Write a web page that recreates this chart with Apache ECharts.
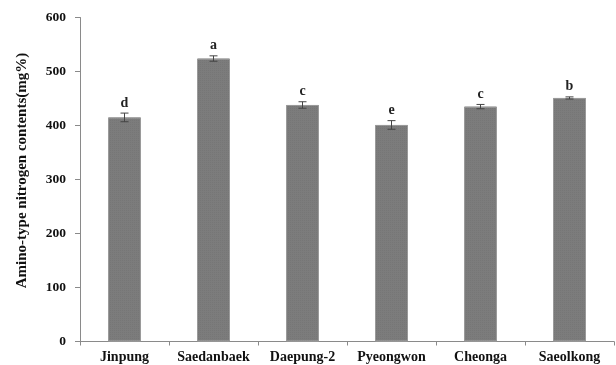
<!DOCTYPE html>
<html>
<head>
<meta charset="utf-8">
<script src="https://cdn.jsdelivr.net/npm/echarts@6/dist/echarts.min.js"></script>
<style>
  html, body { margin: 0; padding: 0; background: #fff; }
  #chart { width: 616px; height: 365px; }
</style>
</head>
<body>
<div id="chart"></div>
<script>
// Cultivars and their amino-type nitrogen contents (mg%)
const cultivars = ['Jinpung', 'Saedanbaek', 'Daepung-2', 'Pyeongwon', 'Cheonga', 'Saeolkong'];
const contents = [415, 524, 438, 401, 435, 451];
const errors = [8, 5, 6, 8, 4, 2];
const groups = ['d', 'a', 'c', 'e', 'c', 'b'];
const yTicks = [0, 100, 200, 300, 400, 500, 600];

const serif = '"Liberation Serif", "DejaVu Serif", serif';
const chart = echarts.init(document.getElementById('chart'));

chart.setOption({
  animation: false,
  grid: { left: 80, right: 2, top: 17.5, bottom: 23.5 },
  xAxis: {
    type: 'category',
    data: cultivars,
    axisLine: { lineStyle: { color: '#8a8a8a', width: 1 } },
    axisTick: { show: true, length: 4, lineStyle: { color: '#8a8a8a' } },
    axisLabel: {
      interval: 0,
      color: '#111', fontFamily: serif, fontWeight: 'bold', fontSize: 14,
      letterSpacing: 1, margin: 9
    }
  },
  yAxis: {
    type: 'value',
    min: yTicks[0],
    max: yTicks[yTicks.length - 1],
    interval: 100,
    name: 'Amino-type nitrogen contents(mg%)',
    nameLocation: 'middle',
    nameGap: 50,
    nameTextStyle: {
      color: '#111', fontFamily: serif, fontWeight: 'bold', fontSize: 15,
      padding: [0, 0, 0, 18]
    },
    axisLine: { show: true, lineStyle: { color: '#8a8a8a', width: 1 } },
    axisTick: { show: true, length: 5, lineStyle: { color: '#8a8a8a' } },
    splitLine: { show: false },
    axisLabel: {
      color: '#111', fontFamily: serif, fontWeight: 'bold', fontSize: 13.5,
      letterSpacing: 0.5, margin: 14
    }
  },
  series: [
    {
      type: 'bar',
      data: contents,
      barWidth: 33,
      itemStyle: {
        color: '#7c7c7c',
        borderColor: '#9a9a9a',
        borderWidth: 1,
        decal: {
          symbol: 'rect',
          symbolSize: 0.5,
          dashArrayX: [1, 1],
          dashArrayY: [1, 1],
          color: 'rgba(60,60,60,0.35)',
          rotation: 0
        }
      }
    },
    {
      // Error bars with caps and group letters above them
      type: 'custom',
      data: contents.map((v, i) => [i, v, errors[i], groups[i]]),
      z: 5,
      renderItem: function (params, api) {
        const i = api.value(0);
        const v = api.value(1);
        const e = api.value(2);
        const top = api.coord([i, v + e]);
        const bot = api.coord([i, v - e]);
        const cap = 4;
        const style = { stroke: '#444', lineWidth: 1 };
        return {
          type: 'group',
          children: [
            { type: 'line', shape: { x1: top[0], y1: top[1], x2: bot[0], y2: bot[1] }, style: style },
            { type: 'line', shape: { x1: top[0] - cap, y1: top[1], x2: top[0] + cap, y2: top[1] }, style: style },
            { type: 'line', shape: { x1: bot[0] - cap, y1: bot[1], x2: bot[0] + cap, y2: bot[1] }, style: style },
            {
              type: 'text',
              style: {
                text: groups[i],
                x: top[0],
                y: top[1] - 3,
                textAlign: 'center',
                textVerticalAlign: 'bottom',
                fill: '#222',
                font: 'bold 14px ' + serif
              }
            }
          ]
        };
      }
    }
  ]
});
</script>
</body>
</html>
